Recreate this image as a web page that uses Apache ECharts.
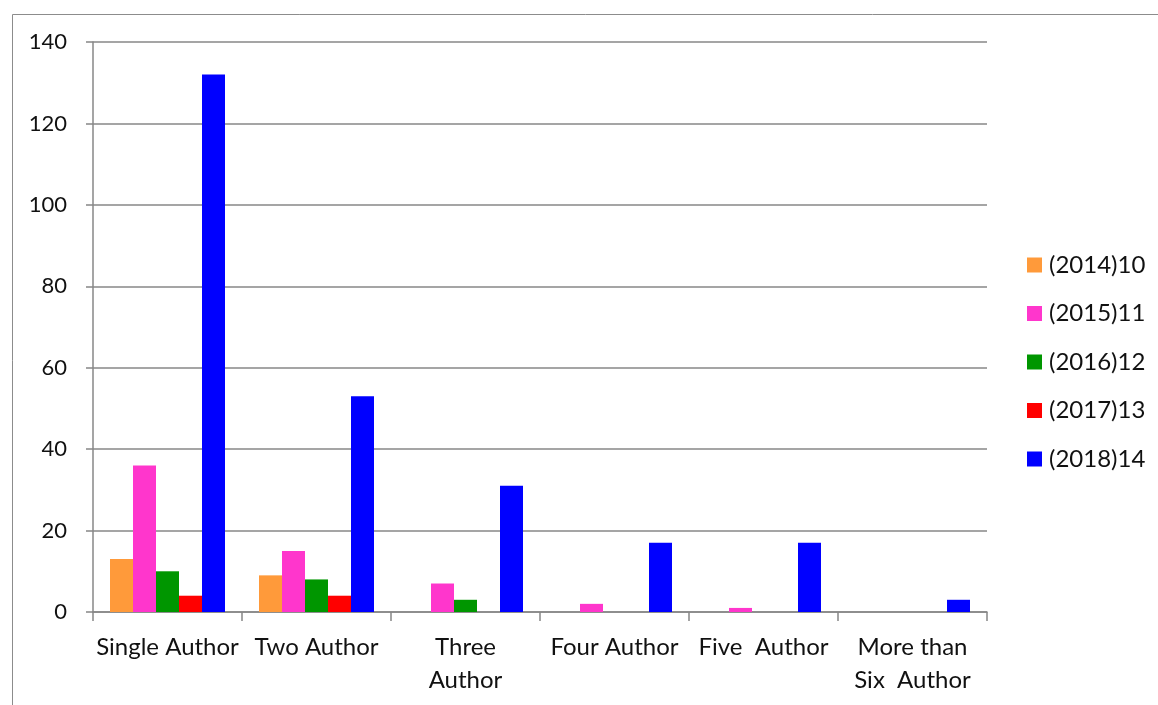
<!DOCTYPE html>
<html>
<head>
<meta charset="utf-8">
<script src="https://cdn.jsdelivr.net/npm/echarts@6/dist/echarts.min.js"></script>
<style>
  html, body { margin: 0; padding: 0; background: #fff; }
  #chart { width: 1158px; height: 705px; }
</style>
</head>
<body>
<div id="chart"></div>
<script>
// Authorship pattern by year
const categories = ['Single Author', 'Two Author', 'Three\nAuthor', 'Four Author', 'Five  Author', 'More than\nSix  Author'];
const seriesNames = ['(2014)10', '(2015)11', '(2016)12', '(2017)13', '(2018)14'];
const values2014 = [13, 9, 0, 0, 0, 0];
const values2015 = [36, 15, 7, 2, 1, 0];
const values2016 = [10, 8, 3, 0, 0, 0];
const values2017 = [4, 4, 0, 0, 0, 0];
const values2018 = [132, 53, 31, 17, 17, 3];
const yTicks = [0, 20, 40, 60, 80, 100, 120, 140];

const colors = ['#FF9A3A', '#FF36CC', '#009600', '#FF0000', '#0000FF'];
const allValues = [values2014, values2015, values2016, values2017, values2018];
const font = 'Lato, "Open Sans", sans-serif';
const gray = '#878787';

const chart = echarts.init(document.getElementById('chart'));
chart.setOption({
  animation: false,
  color: colors,
  graphic: [{
    type: 'rect',
    left: 10, top: 12,
    shape: { width: 1200, height: 760 },
    style: { fill: 'none', stroke: '#8c8c8c', lineWidth: 1 }
  }],
  grid: { left: 93, right: 171, top: 42, bottom: 93, containLabel: false },
  legend: {
    orient: 'vertical',
    left: 1022,
    top: 248,
    itemWidth: 15,
    itemHeight: 15,
    itemGap: 24.5,
    icon: 'rect',
    textStyle: { fontFamily: font, fontSize: 24, color: '#111', lineHeight: 24, padding: [0, 0, 0, 2] },
    data: seriesNames
  },
  xAxis: {
    type: 'category',
    data: categories,
    boundaryGap: true,
    axisLine: { lineStyle: { color: gray, width: 1.5 } },
    axisTick: { show: true, alignWithLabel: false, length: 9, lineStyle: { color: gray, width: 1.5 } },
    axisLabel: { interval: 0, fontFamily: font, fontSize: 24, color: '#111', margin: 19, lineHeight: 33 }
  },
  yAxis: {
    type: 'value',
    min: yTicks[0],
    max: yTicks[yTicks.length - 1],
    interval: 20,
    axisLine: { show: true, lineStyle: { color: gray, width: 1.5 } },
    axisTick: { show: true, inside: false, length: 7, lineStyle: { color: gray, width: 1.5 } },
    axisLabel: { fontFamily: font, fontSize: 22, color: '#111', margin: 26 },
    splitLine: { show: true, lineStyle: { color: gray, width: 1.5 } }
  },
  series: seriesNames.map((name, i) => ({
    name: name,
    type: 'bar',
    data: allValues[i],
    barWidth: 23,
    barGap: '0%',
    itemStyle: { color: colors[i] }
  }))
});
</script>
</body>
</html>
